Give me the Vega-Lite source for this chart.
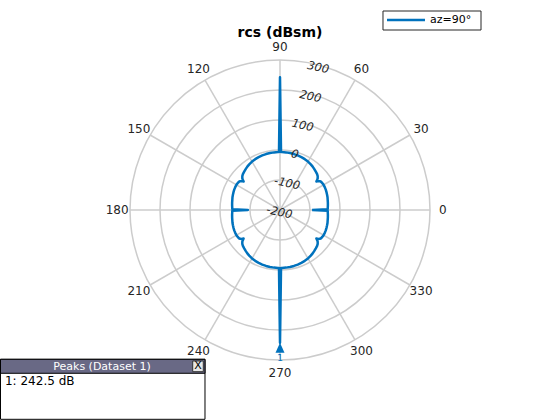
{
  "$schema": "https://vega.github.io/schema/vega-lite/v6.json",
  "width": 560,
  "height": 420,
  "padding": 0,
  "autosize": {"type": "none"},
  "background": "white",
  "config": {"view": {"stroke": null}, "font": "DejaVu Sans"},
  "datasets": {
    "rings": [{"r": -100}, {"r": 0}, {"r": 100}, {"r": 200}, {"r": 300}],
    "spokes": [{"a": 0}, {"a": 30}, {"a": 60}, {"a": 90}, {"a": 120}, {"a": 150}, {"a": 180}, {"a": 210}, {"a": 240}, {"a": 270}, {"a": 300}, {"a": 330}],
    "rticks": [{"v": -200}, {"v": -100}, {"v": 0}, {"v": 100}, {"v": 200}, {"v": 300}],
    "peaks": [{"angle": 270, "rcs": 242.5, "id": "1", "text": "1: 242.5 dB", "title": "rcs (dBsm)", "series": "az=90°"}],
    "curve": [
      {"angle": 0, "rcs": -93}, {"angle": 1, "rcs": -41}, {"angle": 3, "rcs": -40.5}, {"angle": 6, "rcs": -39.5}, {"angle": 9, "rcs": -38.5}, {"angle": 12, "rcs": -37.5}, {"angle": 15, "rcs": -36}, {"angle": 18, "rcs": -35}, {"angle": 21, "rcs": -34}, {"angle": 24, "rcs": -33}, {"angle": 27, "rcs": -32.5}, {"angle": 30, "rcs": -32.3}, {"angle": 33, "rcs": -33}, {"angle": 35, "rcs": -34.5}, {"angle": 36, "rcs": -36.5}, {"angle": 37, "rcs": -40}, {"angle": 38, "rcs": -46}, {"angle": 39, "rcs": -41}, {"angle": 40, "rcs": -36}, {"angle": 42, "rcs": -31}, {"angle": 44, "rcs": -28}, {"angle": 47, "rcs": -25}, {"angle": 50, "rcs": -22}, {"angle": 53, "rcs": -19}, {"angle": 56, "rcs": -16.5}, {"angle": 60, "rcs": -13.5}, {"angle": 64, "rcs": -11.5}, {"angle": 68, "rcs": -10}, {"angle": 72, "rcs": -8.8}, {"angle": 76, "rcs": -7.8}, {"angle": 80, "rcs": -7.2}, {"angle": 84, "rcs": -6.9}, {"angle": 88, "rcs": -6.7}, {"angle": 89, "rcs": -6.7},
      {"angle": 90, "rcs": 242.5},
      {"angle": 91, "rcs": -6.7}, {"angle": 92, "rcs": -6.7}, {"angle": 96, "rcs": -6.9}, {"angle": 100, "rcs": -7.2}, {"angle": 104, "rcs": -7.8}, {"angle": 108, "rcs": -8.8}, {"angle": 112, "rcs": -10}, {"angle": 116, "rcs": -11.5}, {"angle": 120, "rcs": -13.5}, {"angle": 124, "rcs": -16.5}, {"angle": 127, "rcs": -19}, {"angle": 130, "rcs": -22}, {"angle": 133, "rcs": -25}, {"angle": 136, "rcs": -28}, {"angle": 138, "rcs": -31}, {"angle": 140, "rcs": -36}, {"angle": 141, "rcs": -41}, {"angle": 142, "rcs": -46}, {"angle": 143, "rcs": -40}, {"angle": 144, "rcs": -36.5}, {"angle": 145, "rcs": -34.5}, {"angle": 147, "rcs": -33}, {"angle": 150, "rcs": -32.3}, {"angle": 153, "rcs": -32.5}, {"angle": 156, "rcs": -33}, {"angle": 159, "rcs": -34}, {"angle": 162, "rcs": -35}, {"angle": 165, "rcs": -36}, {"angle": 168, "rcs": -37.5}, {"angle": 171, "rcs": -38.5}, {"angle": 174, "rcs": -39.5}, {"angle": 177, "rcs": -40.5}, {"angle": 179, "rcs": -41},
      {"angle": 180, "rcs": -93},
      {"angle": 181, "rcs": -41}, {"angle": 183, "rcs": -40.5}, {"angle": 186, "rcs": -39.5}, {"angle": 189, "rcs": -38.5}, {"angle": 192, "rcs": -37.5}, {"angle": 195, "rcs": -36}, {"angle": 198, "rcs": -35}, {"angle": 201, "rcs": -34}, {"angle": 204, "rcs": -33}, {"angle": 207, "rcs": -32.5}, {"angle": 210, "rcs": -32.3}, {"angle": 213, "rcs": -33}, {"angle": 215, "rcs": -34.5}, {"angle": 216, "rcs": -36.5}, {"angle": 217, "rcs": -40}, {"angle": 218, "rcs": -46}, {"angle": 219, "rcs": -41}, {"angle": 220, "rcs": -36}, {"angle": 222, "rcs": -31}, {"angle": 224, "rcs": -28}, {"angle": 227, "rcs": -25}, {"angle": 230, "rcs": -22}, {"angle": 233, "rcs": -19}, {"angle": 236, "rcs": -16.5}, {"angle": 240, "rcs": -13.5}, {"angle": 244, "rcs": -11.5}, {"angle": 248, "rcs": -10}, {"angle": 252, "rcs": -8.8}, {"angle": 256, "rcs": -7.8}, {"angle": 260, "rcs": -7.2}, {"angle": 264, "rcs": -6.9}, {"angle": 268, "rcs": -6.7}, {"angle": 269, "rcs": -6.7},
      {"angle": 270, "rcs": 242.5},
      {"angle": 271, "rcs": -6.7}, {"angle": 272, "rcs": -6.7}, {"angle": 276, "rcs": -6.9}, {"angle": 280, "rcs": -7.2}, {"angle": 284, "rcs": -7.8}, {"angle": 288, "rcs": -8.8}, {"angle": 292, "rcs": -10}, {"angle": 296, "rcs": -11.5}, {"angle": 300, "rcs": -13.5}, {"angle": 304, "rcs": -16.5}, {"angle": 307, "rcs": -19}, {"angle": 310, "rcs": -22}, {"angle": 313, "rcs": -25}, {"angle": 316, "rcs": -28}, {"angle": 318, "rcs": -31}, {"angle": 320, "rcs": -36}, {"angle": 321, "rcs": -41}, {"angle": 322, "rcs": -46}, {"angle": 323, "rcs": -40}, {"angle": 324, "rcs": -36.5}, {"angle": 325, "rcs": -34.5}, {"angle": 327, "rcs": -33}, {"angle": 330, "rcs": -32.3}, {"angle": 333, "rcs": -32.5}, {"angle": 336, "rcs": -33}, {"angle": 339, "rcs": -34}, {"angle": 342, "rcs": -35}, {"angle": 345, "rcs": -36}, {"angle": 348, "rcs": -37.5}, {"angle": 351, "rcs": -38.5}, {"angle": 354, "rcs": -39.5}, {"angle": 357, "rcs": -40.5}, {"angle": 359, "rcs": -41},
      {"angle": 360, "rcs": -93}
    ]
  },
  "layer": [
    {
      "data": {"name": "rings"},
      "transform": [
        {"calculate": "datum.r + 200", "as": "d"},
        {"calculate": "0", "as": "px"},
        {"calculate": "0", "as": "py"}
      ],
      "mark": {"type": "point", "shape": "circle", "filled": false, "color": "#cccccc", "strokeWidth": 1.5, "opacity": 1},
      "encoding": {
        "x": {"field": "px", "type": "quantitative", "scale": {"domain": [-933.333, 933.333], "nice": false, "zero": false}, "axis": null},
        "y": {"field": "py", "type": "quantitative", "scale": {"domain": [-700, 700], "nice": false, "zero": false}, "axis": null},
        "size": {"field": "d", "type": "quantitative", "scale": {"type": "pow", "exponent": 2, "domain": [0, 500], "range": [0, 90000]}, "legend": null}
      }
    },
    {
      "data": {"name": "spokes"},
      "transform": [
        {"calculate": "0", "as": "px"},
        {"calculate": "0", "as": "py"},
        {"calculate": "500 * cos(datum.a * PI / 180)", "as": "ex"},
        {"calculate": "500 * sin(datum.a * PI / 180)", "as": "ey"}
      ],
      "mark": {"type": "rule", "color": "#cccccc", "strokeWidth": 1.5},
      "encoding": {
        "x": {"field": "px", "type": "quantitative", "axis": null},
        "y": {"field": "py", "type": "quantitative", "axis": null},
        "x2": {"field": "ex"},
        "y2": {"field": "ey"}
      }
    },
    {
      "data": {"name": "spokes"},
      "transform": [
        {"calculate": "543 * cos(datum.a * PI / 180)", "as": "px"},
        {"calculate": "543 * sin(datum.a * PI / 180)", "as": "py"}
      ],
      "mark": {"type": "text", "fontSize": 12, "color": "#262626", "align": "center", "baseline": "middle"},
      "encoding": {
        "x": {"field": "px", "type": "quantitative", "axis": null},
        "y": {"field": "py", "type": "quantitative", "axis": null},
        "text": {"field": "a", "type": "nominal"}
      }
    },
    {
      "data": {"name": "curve"},
      "transform": [
        {"calculate": "(datum.rcs + 200) * cos(datum.angle * PI / 180)", "as": "px"},
        {"calculate": "(datum.rcs + 200) * sin(datum.angle * PI / 180)", "as": "py"}
      ],
      "mark": {"type": "line", "strokeWidth": 2.5, "strokeJoin": "round", "color": "#0072BD"},
      "encoding": {
        "x": {"field": "px", "type": "quantitative", "axis": null},
        "y": {"field": "py", "type": "quantitative", "axis": null},
        "order": {"field": "angle", "type": "quantitative"}
      }
    },
    {
      "data": {"name": "rticks"},
      "transform": [
        {"calculate": "datum.v + 200 - 10", "as": "rr"},
        {"calculate": "datum.rr * cos(75 * PI / 180)", "as": "px"},
        {"calculate": "datum.rr * sin(75 * PI / 180)", "as": "py"}
      ],
      "mark": {"type": "text", "fontSize": 11.5, "fontStyle": "italic", "color": "#262626", "align": "center", "baseline": "middle", "angle": 12},
      "encoding": {
        "x": {"field": "px", "type": "quantitative", "axis": null},
        "y": {"field": "py", "type": "quantitative", "axis": null},
        "text": {"field": "v", "type": "nominal"}
      }
    },
    {
      "data": {"name": "peaks"},
      "transform": [
        {"calculate": "(datum.rcs + 200) * cos(datum.angle * PI / 180)", "as": "px"},
        {"calculate": "(datum.rcs + 200) * sin(datum.angle * PI / 180)", "as": "py"}
      ],
      "mark": {"type": "point", "shape": "M0,0L0.9,2L-0.9,2Z", "filled": true, "color": "#0072BD", "size": 100, "opacity": 1},
      "encoding": {
        "x": {"field": "px", "type": "quantitative", "axis": null},
        "y": {"field": "py", "type": "quantitative", "axis": null}
      }
    },
    {
      "data": {"name": "peaks"},
      "transform": [
        {"calculate": "(datum.rcs + 200) * cos(datum.angle * PI / 180)", "as": "px"},
        {"calculate": "(datum.rcs + 200) * sin(datum.angle * PI / 180)", "as": "py"}
      ],
      "mark": {"type": "text", "fontSize": 9, "color": "#0072BD", "dy": 15, "align": "center", "baseline": "middle"},
      "encoding": {
        "x": {"field": "px", "type": "quantitative", "axis": null},
        "y": {"field": "py", "type": "quantitative", "axis": null},
        "text": {"field": "id", "type": "nominal"}
      }
    },
    {
      "data": {"name": "peaks"},
      "mark": {"type": "text", "fontSize": 14, "fontWeight": "bold", "color": "#000000", "align": "center", "baseline": "middle"},
      "encoding": {
        "x": {"datum": 0, "type": "quantitative", "axis": null},
        "y": {"datum": 590, "type": "quantitative", "axis": null},
        "text": {"field": "title", "type": "nominal"}
      }
    },
    {
      "data": {"name": "peaks"},
      "mark": {"type": "rect", "fill": "white", "stroke": "#262626", "strokeWidth": 1},
      "encoding": {
        "x": {"datum": 343.3, "type": "quantitative", "axis": null},
        "x2": {"datum": 670},
        "y": {"datum": 663.3, "type": "quantitative", "axis": null},
        "y2": {"datum": 600}
      }
    },
    {
      "data": {"name": "peaks"},
      "mark": {"type": "rule", "color": "#0072BD", "strokeWidth": 2.5},
      "encoding": {
        "x": {"datum": 356.7, "type": "quantitative", "axis": null},
        "x2": {"datum": 483.3},
        "y": {"datum": 633.3, "type": "quantitative", "axis": null}
      }
    },
    {
      "data": {"name": "peaks"},
      "mark": {"type": "text", "fontSize": 11, "color": "#000000", "align": "left", "baseline": "middle"},
      "encoding": {
        "x": {"datum": 500, "type": "quantitative", "axis": null},
        "y": {"datum": 633.3, "type": "quantitative", "axis": null},
        "text": {"field": "series", "type": "nominal"}
      }
    },
    {
      "data": {"name": "peaks"},
      "mark": {"type": "rect", "fill": "white", "stroke": "black", "strokeWidth": 1},
      "encoding": {
        "x": {"datum": -931.7, "type": "quantitative", "axis": null},
        "x2": {"datum": -250},
        "y": {"datum": -497.7, "type": "quantitative", "axis": null},
        "y2": {"datum": -697.7}
      }
    },
    {
      "data": {"name": "peaks"},
      "mark": {"type": "rect", "fill": "#696985", "stroke": "black", "strokeWidth": 1},
      "encoding": {
        "x": {"datum": -931.7, "type": "quantitative", "axis": null},
        "x2": {"datum": -250},
        "y": {"datum": -497.7, "type": "quantitative", "axis": null},
        "y2": {"datum": -544.3}
      }
    },
    {
      "data": {"name": "peaks"},
      "mark": {"type": "text", "fontSize": 11, "color": "white", "align": "center", "baseline": "middle"},
      "encoding": {
        "x": {"datum": -593.3, "type": "quantitative", "axis": null},
        "y": {"datum": -521.7, "type": "quantitative", "axis": null},
        "text": {"value": "Peaks (Dataset 1)"}
      }
    },
    {
      "data": {"name": "peaks"},
      "mark": {"type": "rect", "fill": "#e8e8e8", "stroke": "#333333", "strokeWidth": 1},
      "encoding": {
        "x": {"datum": -291, "type": "quantitative", "axis": null},
        "x2": {"datum": -255.7},
        "y": {"datum": -503.3, "type": "quantitative", "axis": null},
        "y2": {"datum": -539}
      }
    },
    {
      "data": {"name": "peaks"},
      "mark": {"type": "text", "fontSize": 11, "color": "black", "align": "center", "baseline": "middle"},
      "encoding": {
        "x": {"datum": -273.3, "type": "quantitative", "axis": null},
        "y": {"datum": -521, "type": "quantitative", "axis": null},
        "text": {"value": "X"}
      }
    },
    {
      "data": {"name": "peaks"},
      "mark": {"type": "text", "fontSize": 12, "color": "black", "align": "left", "baseline": "middle"},
      "encoding": {
        "x": {"datum": -916.7, "type": "quantitative", "axis": null},
        "y": {"datum": -570, "type": "quantitative", "axis": null},
        "text": {"field": "text", "type": "nominal"}
      }
    }
  ]
}
